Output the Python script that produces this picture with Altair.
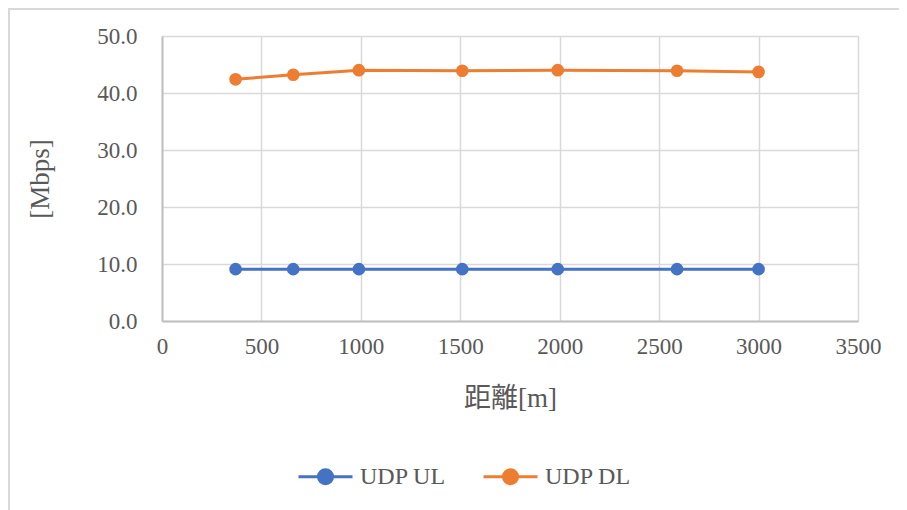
import altair as alt
import pandas as pd

distance = [370, 660, 990, 1510, 1990, 2590, 3000]
udp_ul = [9.1, 9.1, 9.1, 9.1, 9.1, 9.1, 9.1]
udp_dl = [42.4, 43.2, 44.0, 43.9, 44.0, 43.9, 43.7]
series_names = ["UDP UL", "UDP DL"]
series_colors = ["#4472C4", "#ED7D31"]
x_ticks = [0, 500, 1000, 1500, 2000, 2500, 3000, 3500]
y_ticks = [0, 10, 20, 30, 40, 50]

rows = []
for d, v in zip(distance, udp_ul):
    rows.append({"dist": d, "val": v, "series": series_names[0]})
for d, v in zip(distance, udp_dl):
    rows.append({"dist": d, "val": v, "series": series_names[1]})
df = pd.DataFrame(rows)

FONT = "Liberation Serif, 'Noto Sans CJK JP', serif"
TXT = "#595959"

W, H = 696, 285

sym = "M-1,0L1,0M0.26,0A0.26,0.26,0,1,1,-0.26,0A0.26,0.26,0,1,1,0.26,0Z"

color = alt.Color(
    "series:N",
    scale=alt.Scale(domain=series_names, range=series_colors),
    legend=alt.Legend(
        title=None,
        orient="none",
        legendX=135,
        legendY=412,
        direction="horizontal",
        symbolType=sym,
        symbolSize=2916,
        symbolStrokeWidth=3,
        labelFont=FONT,
        labelFontSize=24,
        labelColor=TXT,
        labelOffset=6,
        columnPadding=30,
    ),
)

x = alt.X(
    "dist:Q",
    scale=alt.Scale(domain=[0, 3500], nice=False),
    axis=alt.Axis(
        values=x_ticks,
        format="d",
        title="距離[m]",
        titleFont=FONT,
        titleFontSize=27,
        titleFontWeight="normal",
        titleColor=TXT,
        titleBaseline="middle",
        titleY=77,
        labelFont=FONT,
        labelFontSize=23,
        labelColor=TXT,
        labelPadding=14,
        ticks=False,
        domainColor="#bfbfbf",
        domainWidth=2,
        gridColor="#d9d9d9",
        gridWidth=1.5,
        labelFlush=False,
    ),
)
y = alt.Y(
    "val:Q",
    scale=alt.Scale(domain=[0, 50], nice=False),
    axis=alt.Axis(
        values=y_ticks,
        format=".1f",
        title="[Mbps]",
        titleFont=FONT,
        titleFontSize=27,
        titleFontWeight="normal",
        titleColor=TXT,
        titleAngle=-90,
        titleBaseline="middle",
        titleAlign="center",
        titleX=-122,
        titleY=H / 2,
        labelFont=FONT,
        labelFontSize=23,
        labelColor=TXT,
        labelPadding=25,
        ticks=False,
        domainColor="#bfbfbf",
        domainWidth=2,
        gridColor="#d9d9d9",
        gridWidth=1.5,
    ),
)

base = alt.Chart(df)
lines = base.mark_line(strokeWidth=3).encode(x=x, y=y, color=color)
points = base.mark_point(filled=True, size=160, opacity=1).encode(x=x, y=y, color=color)

frame = alt.Chart(pd.DataFrame({"a": [0]})).mark_rect(
    fill="transparent", stroke="#d9d9d9", strokeWidth=2
).encode(
    x=alt.value(-153), x2=alt.value(1000), y=alt.value(-27), y2=alt.value(600)
)

chart = alt.layer(frame, lines, points).properties(
    width=W,
    height=H,
    autosize=alt.AutoSizeParams(type="none"),
    padding={"left": 154, "top": 28, "right": 41, "bottom": 200},
).configure_view(stroke="#d9d9d9", strokeWidth=1.5).configure(background="white")

chart.save("out.html", embed_options={"renderer": "svg", "actions": False})
